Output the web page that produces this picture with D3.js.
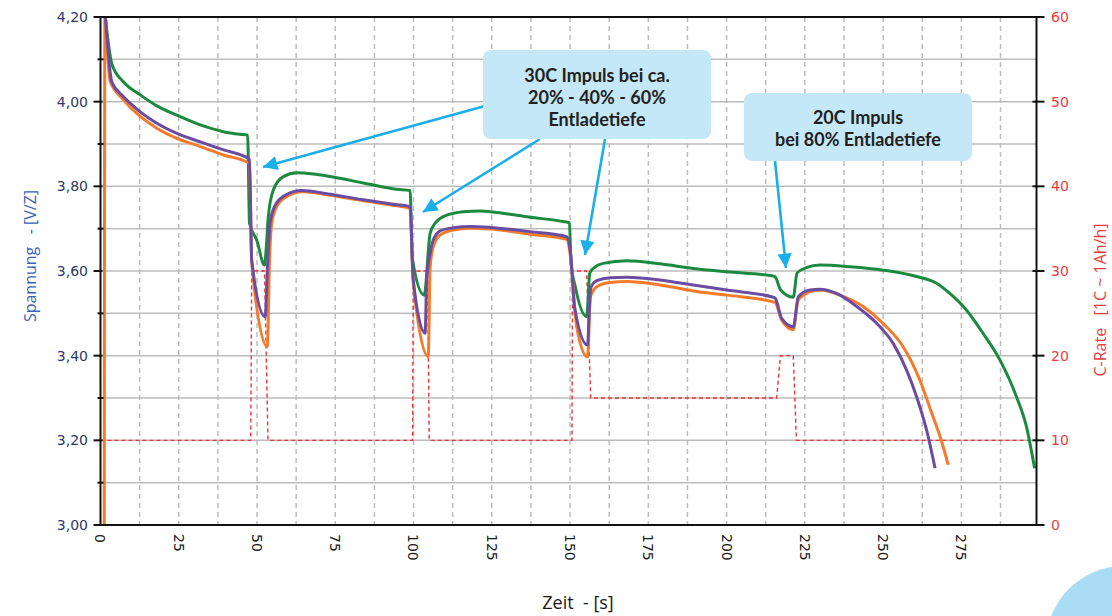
<!DOCTYPE html>
<html><head><meta charset="utf-8">
<script src="https://cdn.jsdelivr.net/npm/d3@7"></script>
<style>body{margin:0;background:#fff}svg{display:block}</style>
</head><body>
<svg id="c" width="1112" height="616"></svg>
<script>
// ---- data ----
const yTicks = [3.0, 3.2, 3.4, 3.6, 3.8, 4.0, 4.2];
const yTickLabels = ["3,00","3,20","3,40","3,60","3,80","4,00","4,20"];
const y2Ticks = [0, 10, 20, 30, 40, 50, 60];
const y2TickLabels = ["0","10","20","30","40","50","60"];
const xTicks = [0, 25, 50, 75, 100, 125, 150, 175, 200, 225, 250, 275];
const xTickLabels = ["0","25","50","75","100","125","150","175","200","225","250","275"];

const greenT = [1.5,3.7,7.3,12.7,18.0,24.4,31.9,39.3,44.5,47.0,47.6,49.9,52.4,52.9,53.6,55.2,58.4,62.7,68,73.3,84,94.6,98.9,99.6,103.4,105.3,106.9,110.6,115.9,121.2,126.6,137.2,147.8,149.8,150.3,151.6,155.3,156.3,157.4,160.6,168.1,178.7,189.3,200,214.9,215.6,217.3,221.3,222.5,225.5,229.8,239.4,250,260.7,267.1,271.3,276.6,281.9,287.3,292.6,295.8,298.4];
const greenV = [4.20,4.087,4.047,4.016,3.990,3.968,3.945,3.929,3.923,3.921,3.713,3.673,3.614,3.650,3.728,3.791,3.823,3.832,3.829,3.823,3.808,3.793,3.790,3.630,3.543,3.689,3.713,3.732,3.740,3.742,3.738,3.727,3.717,3.714,3.620,3.565,3.492,3.595,3.606,3.618,3.624,3.617,3.606,3.598,3.588,3.585,3.555,3.538,3.595,3.608,3.614,3.610,3.602,3.587,3.571,3.547,3.508,3.453,3.390,3.303,3.232,3.134];

const purpleT = [1.6,3.6,7.3,12.7,18,24.4,31.9,39.3,47.6,48.3,52.6,53.4,54.2,55.8,59,64.3,72.8,83.4,94.1,98.9,99.9,103.7,104.2,105.3,106.3,108.5,112.7,118.1,124.4,137.2,148.9,150.2,151.4,155.6,156.1,156.6,158.5,162.8,168.1,178.7,189.3,200,214.9,215.6,217.6,221.3,222.9,226.6,229.8,235.1,241.6,248,253.2,257.5,260.7,263.9,266.6];
const purpleV = [4.20,4.047,4.012,3.976,3.949,3.925,3.905,3.886,3.864,3.626,3.492,3.620,3.715,3.755,3.779,3.790,3.782,3.769,3.757,3.752,3.579,3.453,3.579,3.642,3.673,3.695,3.702,3.705,3.703,3.693,3.681,3.640,3.516,3.425,3.500,3.560,3.577,3.584,3.585,3.579,3.567,3.555,3.538,3.535,3.488,3.468,3.539,3.555,3.557,3.547,3.516,3.476,3.429,3.366,3.303,3.224,3.134];

const orangeT = [1.2,1.4,3.0,7.3,12.7,18,24.4,31.9,39.3,47.6,48.3,53.3,54.0,54.7,56.3,59.5,64.8,73.3,84,94.6,98.9,99.9,104.7,105.3,106.3,108.5,112.7,118.1,124.4,137.2,148.9,150.2,152.1,155.6,156.5,158.5,162.8,168.1,178.7,189.3,200,214.9,215.6,217.6,221.3,222.9,226.6,229.8,236.2,243.6,250,256.4,261.7,265.5,268.8,270.8];
const orangeV = [3.0,4.20,4.050,4.005,3.965,3.937,3.913,3.894,3.874,3.854,3.620,3.421,3.626,3.713,3.752,3.776,3.787,3.779,3.766,3.754,3.748,3.575,3.398,3.610,3.657,3.685,3.697,3.701,3.699,3.687,3.675,3.630,3.469,3.397,3.539,3.563,3.573,3.575,3.567,3.553,3.543,3.527,3.525,3.484,3.461,3.531,3.551,3.555,3.543,3.516,3.476,3.421,3.343,3.265,3.195,3.142];

const rateT = [0,48.0,48.3,52.4,53.5,99.7,99.9,104.5,105.0,150.6,150.8,155.3,156.6,216.0,217.2,221.3,222.3,298.4];
const rateV = [10,10,30,30,10,10,30,30,10,10,30,30,15,15,20,20,10,10];

const callout1 = ["30C Impuls bei ca.","20% - 40% - 60%","Entladetiefe"];
const callout2 = ["20C Impuls","bei 80% Entladetiefe"];

// ---- layout ----
const svg = d3.select("#c");
const L = 100.5, R = 1036.5, T = 17, B = 525;
const x = d3.scaleLinear().domain([0, 299]).range([L, R]);
const y = d3.scaleLinear().domain([3.0, 4.2]).range([B, T]);
const y2 = d3.scaleLinear().domain([0, 60]).range([B, T]);

// grid
const g = svg.append("g");
const hGrid = d3.range(3.1, 4.15, 0.1);
g.selectAll("line.h").data(hGrid).join("line")
  .attr("x1", L).attr("x2", R).attr("y1", d => y(d)).attr("y2", d => y(d))
  .attr("stroke", "#bcbcbc").attr("stroke-width", 1.5);
const vGrid = d3.range(12.5, 299, 12.5);
g.selectAll("line.v").data(vGrid).join("line")
  .attr("y1", T).attr("y2", B).attr("x1", d => x(d)).attr("x2", d => x(d))
  .attr("stroke", "#bdbdbd").attr("stroke-width", 1.5).attr("stroke-dasharray", "5,4");

// clip
svg.append("clipPath").attr("id","clip").append("rect")
  .attr("x", L).attr("y", T).attr("width", R - L).attr("height", B - T);
const plot = svg.append("g").attr("clip-path","url(#clip)");

// red rate
const lineR = d3.line().x((d,i) => x(rateT[i])).y(d => y2(d));
plot.append("path").attr("d", lineR(rateV)).attr("fill","none")
  .attr("stroke","#ee3333").attr("stroke-width",1.4).attr("stroke-dasharray","4,3");

function vline(T_, V_, color) {
  const ln = d3.line().x((d,i) => x(T_[i])).y(d => y(d)).curve(d3.curveMonotoneX);
  plot.append("path").attr("d", ln(V_)).attr("fill","none")
    .attr("stroke", color).attr("stroke-width", 3).attr("stroke-linejoin","round");
}
vline(greenT, greenV, "#1b8a3e");
vline(orangeT, orangeV, "#f47a2c");
vline(purpleT, purpleV, "#6a4ca2");

// frame
svg.append("rect").attr("x", L).attr("y", T).attr("width", R - L).attr("height", B - T)
  .attr("fill","none").attr("stroke","#111").attr("stroke-width",2);

// left axis ticks
const lt = svg.append("g");
lt.selectAll("line.maj").data(yTicks).join("line")
  .attr("x1", L - 7).attr("x2", L + 2).attr("y1", d => y(d)).attr("y2", d => y(d))
  .attr("stroke","#111").attr("stroke-width",2);
lt.selectAll("line.min").data(d3.range(3.1, 4.15, 0.2)).join("line")
  .attr("x1", L - 3).attr("x2", L + 3).attr("y1", d => y(d)).attr("y2", d => y(d))
  .attr("stroke","#111").attr("stroke-width",2);
lt.selectAll("text").data(yTicks).join("text")
  .attr("x", 88).attr("y", d => y(d)).attr("dy","0.36em").attr("text-anchor","end")
  .attr("font-family","DejaVu Sans, sans-serif").attr("font-size",14).attr("fill","#2c3a66")
  .text((d,i) => yTickLabels[i]);

// right axis
const rt = svg.append("g");
rt.selectAll("line.maj").data(y2Ticks).join("line")
  .attr("x1", R - 4).attr("x2", R + 8).attr("y1", d => y2(d)).attr("y2", d => y2(d))
  .attr("stroke","#111").attr("stroke-width",2);
rt.selectAll("text").data(y2Ticks).join("text")
  .attr("x", 1051).attr("y", d => y2(d)).attr("dy","0.36em").attr("text-anchor","start")
  .attr("font-family","DejaVu Sans, sans-serif").attr("font-size",14).attr("fill","#f03a3a")
  .text((d,i) => y2TickLabels[i]);

// x tick labels rotated
svg.append("g").selectAll("text").data(xTicks).join("text")
  .attr("transform", d => `translate(${x(d)},534) rotate(90)`)
  .attr("dy","0.36em").attr("text-anchor","start")
  .attr("font-family","DejaVu Sans, sans-serif").attr("font-size",14).attr("fill","#1a1a1a")
  .text((d,i) => xTickLabels[i]);

// axis titles
svg.append("text").attr("transform","translate(36,256) rotate(-90)")
  .attr("text-anchor","middle").attr("font-family","Open Sans, sans-serif")
  .attr("font-size",16).attr("fill","#3a62b4")
  .style("white-space","pre").text("Spannung   - [V/Z]");
svg.append("text").attr("transform","translate(1106,300) rotate(-90)")
  .attr("text-anchor","middle").attr("font-family","Open Sans, sans-serif")
  .attr("font-size",16).attr("fill","#f03a3a")
  .style("white-space","pre").text("C-Rate   [1C ~ 1Ah/h]");
svg.append("text").attr("x",578).attr("y",609)
  .attr("text-anchor","middle").attr("font-family","Open Sans, sans-serif")
  .attr("font-size",18).attr("fill","#1a1a1a")
  .style("white-space","pre").text("Zeit  - [s]");

// blob bottom-right
svg.append("circle").attr("cx",1124).attr("cy",644).attr("r",78).attr("fill","#a9dcf5");

// arrows
const defs = svg.append("defs");
defs.append("marker").attr("id","ah").attr("viewBox","0 0 10 10").attr("refX",10).attr("refY",5)
  .attr("markerWidth",7).attr("markerHeight",5.5).attr("orient","auto").attr("markerUnits","strokeWidth")
  .append("path").attr("d","M0,0 L10,5 L0,10 z").attr("fill","#1aaeea");
const arrows = [[485,106,263,167],[540,139,423,212],[605,139,585,255],[775,161,786,268]];
svg.append("g").selectAll("line").data(arrows).join("line")
  .attr("x1", d => d[0]).attr("y1", d => d[1])
  .attr("x2", d => d[2]).attr("y2", d => d[3])
  .attr("stroke","#1aaeea").attr("stroke-width",2.6).attr("marker-end","url(#ah)");

// callouts
function callout(x0, y0, w, h, lines, baseline0, step) {
  const cg = svg.append("g");
  cg.append("rect").attr("x",x0).attr("y",y0).attr("width",w).attr("height",h)
    .attr("rx",8).attr("fill","#c4e8f8");
  cg.selectAll("text").data(lines).join("text")
    .attr("x", x0 + w/2).attr("y", (d,i) => baseline0 + i*step)
    .attr("text-anchor","middle").attr("font-family","Lato, Open Sans, sans-serif")
    .attr("font-weight","bold").attr("font-size",18).attr("fill","#231f20")
    .text(d => d);
}
callout(483, 50, 228, 89, callout1, 81.5, 22);
callout(744, 93, 228, 68, callout2, 123.5, 22);
</script>
</body></html>
